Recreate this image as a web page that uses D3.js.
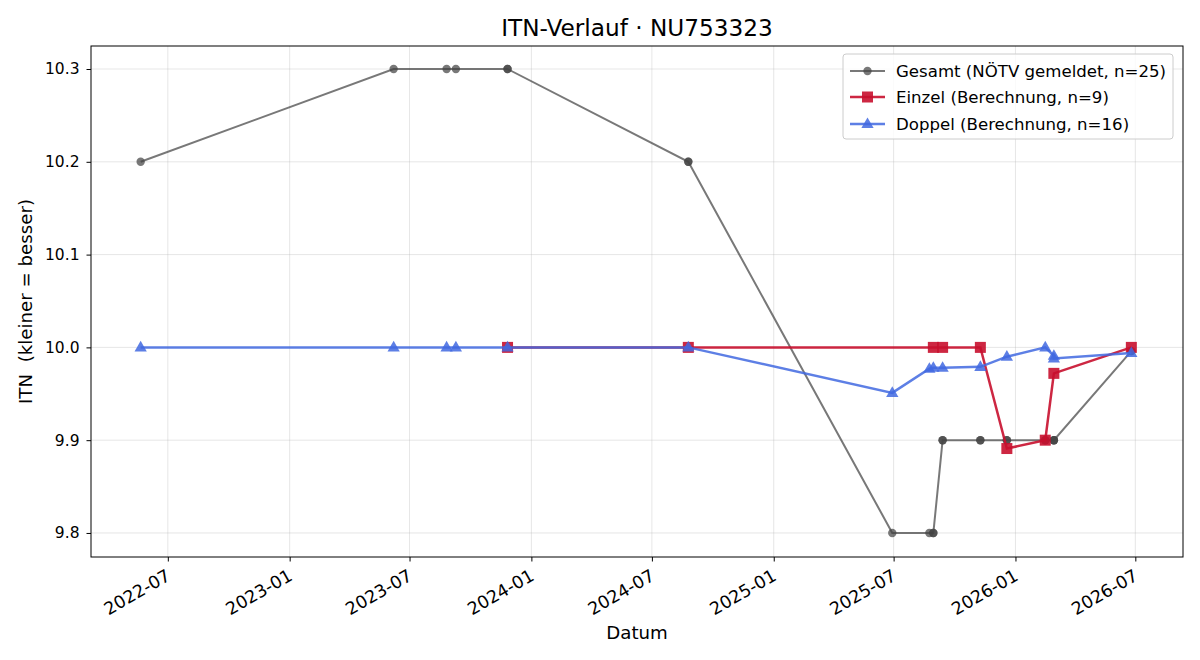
<!DOCTYPE html>
<html><head><meta charset="utf-8">
<script src="https://cdn.jsdelivr.net/npm/d3@7"></script>
<style>body{margin:0;background:#fff;} text{font-family:"DejaVu Sans",sans-serif;}</style>
</head><body><svg id="c" width="1200" height="660"></svg>
<script>
const title = "ITN-Verlauf · NU753323";
const yTicks = [9.8, 9.9, 10.0, 10.1, 10.2, 10.3];
const xTickLabels = ["2022-07","2023-01","2023-07","2024-01","2024-07","2025-01","2025-07","2026-01","2026-07"];

const gesamtDates = ["2022-05-21","2023-06-07","2023-08-26","2023-09-09","2023-11-26","2023-11-26","2024-08-25","2024-08-25","2025-06-29","2025-08-24","2025-08-30","2025-08-30","2025-09-13","2025-09-13","2025-11-09","2025-11-09","2025-12-19","2025-12-19","2026-02-15","2026-02-15","2026-02-28","2026-02-28","2026-02-28","2026-06-25","2026-06-25"];
const gesamtValues = [10.2,10.3,10.3,10.3,10.3,10.3,10.2,10.2,9.8,9.8,9.8,9.8,9.9,9.9,9.9,9.9,9.9,9.9,9.9,9.9,9.9,9.9,9.9,9.996,9.996];

const einzelDates = ["2023-11-26","2024-08-25","2025-08-30","2025-09-13","2025-11-09","2025-12-19","2026-02-15","2026-02-28","2026-06-25"];
const einzelValues = [10.0,10.0,10.0,10.0,10.0,9.891,9.900,9.972,10.0];

const doppelDates = ["2022-05-21","2023-06-07","2023-08-26","2023-09-09","2023-11-26","2024-08-25","2025-06-29","2025-08-24","2025-08-30","2025-09-13","2025-11-09","2025-12-19","2026-02-15","2026-02-28","2026-02-28","2026-06-25"];
const doppelValues = [10.0,10.0,10.0,10.0,10.0,10.0,9.951,9.977,9.978,9.978,9.979,9.990,10.0,9.991,9.988,9.994];

const seriesNames = ["Gesamt (NÖTV gemeldet, n=25)","Einzel (Berechnung, n=9)","Doppel (Berechnung, n=16)"];

const parse = d3.timeParse("%Y-%m-%d");
const svg = d3.select("#c");
const L = 91, R = 1183, T = 46, B = 557;

const x = d3.scaleTime().domain([parse("2022-03-07"), parse("2026-09-11")]).range([L, R]);
const y = d3.scaleLinear().domain([9.7741, 10.3248]).range([B, T]);
const xTickDates = xTickLabels.map(s => parse(s + "-01"));

// grid
const g = svg.append("g");
g.selectAll(".gx").data(xTickDates).join("line")
  .attr("x1", d => x(d)).attr("x2", d => x(d)).attr("y1", T).attr("y2", B)
  .attr("stroke", "#b0b0b0").attr("stroke-opacity", 0.4).attr("stroke-width", 0.8);
g.selectAll(".gy").data(yTicks).join("line")
  .attr("x1", L).attr("x2", R).attr("y1", d => y(d)).attr("y2", d => y(d))
  .attr("stroke", "#b0b0b0").attr("stroke-opacity", 0.4).attr("stroke-width", 0.8);

// axes
const xAxis = d3.axisBottom(x).tickValues(xTickDates).tickFormat(d3.timeFormat("%Y-%m")).tickSize(4.5).tickPadding(3);
const xa = svg.append("g").attr("transform", `translate(0,${B})`).call(xAxis);
xa.attr("font-size", null).attr("font-family", null);
xa.select(".domain").remove();
xa.selectAll("text").style("font-size", "17.5px").attr("fill", "#000")
  .attr("text-anchor", "end").attr("dy", null).attr("y", 0)
  .attr("transform", "translate(-3,11) rotate(-30)").attr("dominant-baseline", "hanging");
xa.selectAll("line").attr("stroke", "#000");

const yAxis = d3.axisLeft(y).tickValues(yTicks).tickFormat(d3.format(".1f")).tickSize(4.5).tickPadding(7);
const ya = svg.append("g").attr("transform", `translate(${L},0)`).call(yAxis);
ya.attr("font-size", null).attr("font-family", null);
ya.select(".domain").remove();
ya.selectAll("text").style("font-size", "15.5px").attr("fill", "#000");
ya.selectAll("line").attr("stroke", "#000");

// series
function mk(dates, vals){ return dates.map((d,i)=>({d:parse(d), v:vals[i]})); }
const gesamt = mk(gesamtDates, gesamtValues);
const einzel = mk(einzelDates, einzelValues);
const doppel = mk(doppelDates, doppelValues);
const line = d3.line().x(p => x(p.d)).y(p => y(p.v));

const gc = "#444444", ec = "#c8102e", dc = "#4169e1";
// Gesamt
svg.append("path").datum(gesamt).attr("d", line).attr("fill","none")
  .attr("stroke", gc).attr("stroke-opacity", 0.72).attr("stroke-width", 2);
svg.append("g").selectAll("circle").data(gesamt).join("circle")
  .attr("cx", p => x(p.d)).attr("cy", p => y(p.v)).attr("r", 4.2)
  .attr("fill", gc).attr("fill-opacity", 0.72);
// Einzel
svg.append("path").datum(einzel).attr("d", line).attr("fill","none")
  .attr("stroke", ec).attr("stroke-opacity", 0.9).attr("stroke-width", 2.5);
svg.append("g").selectAll("rect").data(einzel).join("rect")
  .attr("x", p => x(p.d) - 5.5).attr("y", p => y(p.v) - 5.5).attr("width", 11).attr("height", 11)
  .attr("fill", ec).attr("fill-opacity", 0.9);
// Doppel
const tri = d3.symbol().type(d3.symbolTriangle).size(65);
svg.append("path").datum(doppel).attr("d", line).attr("fill","none")
  .attr("stroke", dc).attr("stroke-opacity", 0.85).attr("stroke-width", 2.5);
svg.append("g").selectAll("path").data(doppel).join("path")
  .attr("d", tri).attr("transform", p => `translate(${x(p.d)},${y(p.v)+0.5})`)
  .attr("fill", dc).attr("fill-opacity", 0.85);

// frame
svg.append("rect").attr("x", L).attr("y", T).attr("width", R-L).attr("height", B-T)
  .attr("fill","none").attr("stroke","#000").attr("stroke-width",1);

// title and labels
svg.append("text").attr("x", (L+R)/2).attr("y", 36).attr("text-anchor","middle")
  .attr("font-size", 23.2).text(title);
svg.append("text").attr("x", (L+R)/2).attr("y", 639).attr("text-anchor","middle")
  .attr("font-size", 18.2).text("Datum");
svg.append("text").attr("transform", `translate(32,${(T+B)/2}) rotate(-90)`).attr("text-anchor","middle")
  .attr("font-size", 18.2).attr("xml:space","preserve").text("ITN  (kleiner = besser)");

// legend
const lg = svg.append("g");
lg.append("rect").attr("x", 843).attr("y", 54).attr("width", 330).attr("height", 85).attr("rx", 3)
  .attr("fill", "#fff").attr("fill-opacity", 0.8).attr("stroke", "#ccc").attr("stroke-width", 1);
const ly = [71, 97, 124];
const cols = [gc, ec, dc];
const opac = [0.72, 0.9, 0.85];
seriesNames.forEach((n, i) => {
  lg.append("line").attr("x1", 850).attr("x2", 885).attr("y1", ly[i]).attr("y2", ly[i])
    .attr("stroke", cols[i]).attr("stroke-opacity", opac[i]).attr("stroke-width", i===0?2:2.5);
  if (i === 0) lg.append("circle").attr("cx", 867.5).attr("cy", ly[i]).attr("r", 4.2).attr("fill", gc).attr("fill-opacity", 0.72);
  if (i === 1) lg.append("rect").attr("x", 862).attr("y", ly[i]-5.5).attr("width", 11).attr("height", 11).attr("fill", ec).attr("fill-opacity", 0.9);
  if (i === 2) lg.append("path").attr("d", tri).attr("transform", `translate(867.5,${ly[i]+0.5})`).attr("fill", dc).attr("fill-opacity", 0.85);
  lg.append("text").attr("x", 896).attr("y", ly[i]).attr("dy", "0.35em").attr("font-size", 16.6).text(n);
});
</script></body></html>
